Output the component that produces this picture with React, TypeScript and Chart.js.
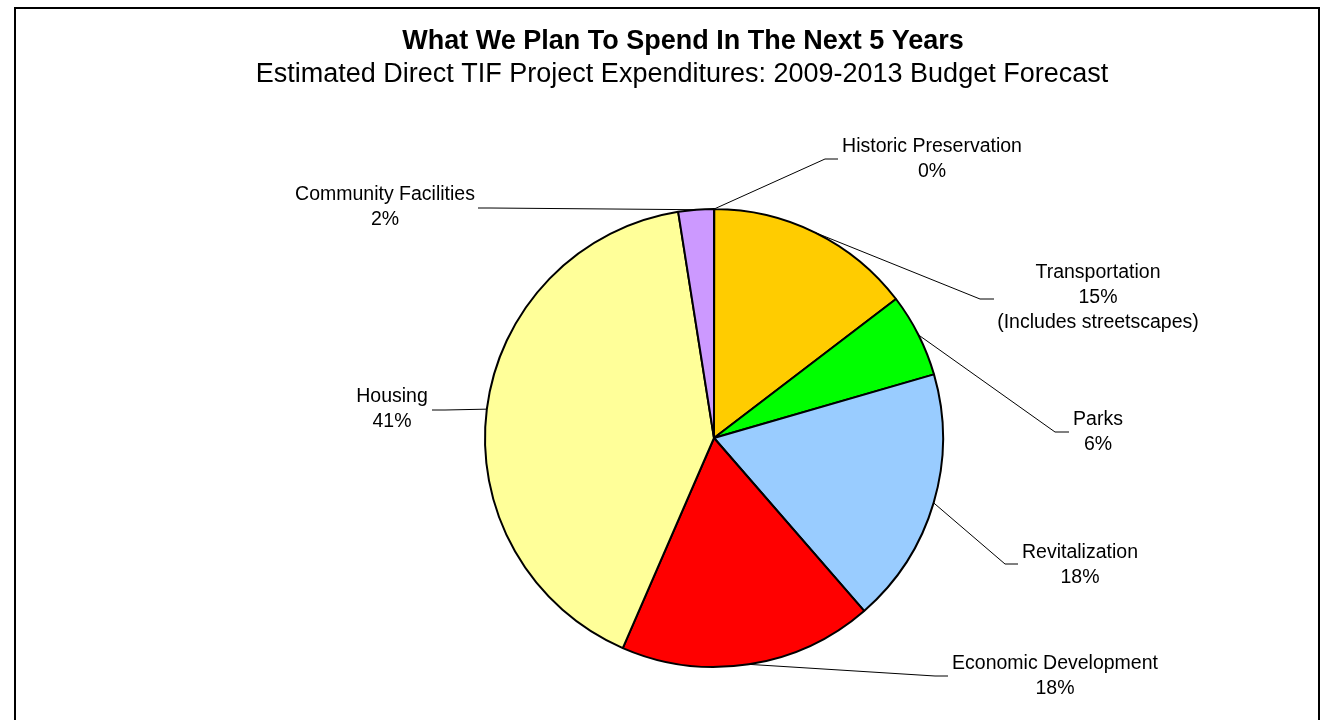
import React, { useEffect, useRef } from "react";
import { Chart, registerables } from "chart.js";

Chart.register(...registerables);

const categories = [
  "Historic Preservation",
  "Transportation",
  "Parks",
  "Revitalization",
  "Economic Development",
  "Housing",
  "Community Facilities",
];
const shares = [0.02, 14.6, 5.9, 18.1, 17.9, 40.98, 2.5];
const percentLabels = ["0%", "15%", "6%", "18%", "18%", "41%", "2%"];
const extraLines = ["", "(Includes streetscapes)", "", "", "", "", ""];
const sliceColors = ["#FF9900", "#FFCC00", "#00FF00", "#99CCFF", "#FF0000", "#FFFF99", "#CC99FF"];

const titleText = "What We Plan To Spend In The Next 5 Years";
const subtitleText = "Estimated Direct TIF Project Expenditures: 2009-2013 Budget Forecast";

// label layout: elbow point, end of leader, text centre and first line y
const labelLayout = [
  { elbow: [825, 159], end: [838, 159], tx: 932, ty: 147 },
  { elbow: [980, 299], end: [994, 299], tx: 1098, ty: 273 },
  { elbow: [1055, 432], end: [1069, 432], tx: 1098, ty: 420 },
  { elbow: [1005, 564], end: [1018, 564], tx: 1080, ty: 553 },
  { elbow: [935, 676], end: [948, 676], tx: 1055, ty: 664 },
  { elbow: [445, 410], end: [432, 410], tx: 392, ty: 397 },
  { elbow: [490, 208], end: [478, 208], tx: 385, ty: 195 },
];

const FONT = "'Liberation Sans', Arial, sans-serif";

const framePlugin = {
  id: "frame",
  beforeDraw(chart: any) {
    const ctx = chart.ctx;
    ctx.save();
    ctx.fillStyle = "#FFFFFF";
    ctx.fillRect(0, 0, chart.width, chart.height);
    ctx.strokeStyle = "#000000";
    ctx.lineWidth = 2;
    ctx.strokeRect(15, 8, 1304, 740);
    ctx.fillStyle = "#000000";
    ctx.textAlign = "center";
    ctx.textBaseline = "middle";
    ctx.font = `bold 27px ${FONT}`;
    ctx.fillText(titleText, 683, 42);
    ctx.font = `27px ${FONT}`;
    ctx.fillText(subtitleText, 682, 75);
    ctx.restore();
  },
};

const labelPlugin = {
  id: "pieLabels",
  afterDatasetsDraw(chart: any) {
    const ctx = chart.ctx;
    const meta = chart.getDatasetMeta(0);
    ctx.save();
    meta.data.forEach((arc: any, i: number) => {
      const { x, y, startAngle, endAngle, outerRadius } = arc.getProps(
        ["x", "y", "startAngle", "endAngle", "outerRadius"],
        true
      );
      const mid = (startAngle + endAngle) / 2;
      const sx = x + Math.cos(mid) * outerRadius;
      const sy = y + Math.sin(mid) * outerRadius;
      const lay = labelLayout[i];
      ctx.strokeStyle = "#000000";
      ctx.lineWidth = 1;
      ctx.beginPath();
      ctx.moveTo(sx, sy);
      ctx.lineTo(lay.elbow[0], lay.elbow[1]);
      ctx.lineTo(lay.end[0], lay.end[1]);
      ctx.stroke();
      ctx.fillStyle = "#000000";
      ctx.font = `19.5px ${FONT}`;
      ctx.textAlign = "center";
      ctx.textBaseline = "middle";
      const lines = [categories[i], percentLabels[i]];
      if (extraLines[i]) lines.push(extraLines[i]);
      lines.forEach((t, k) => ctx.fillText(t, lay.tx, lay.ty + k * 25));
    });
    ctx.restore();
  },
};

export default function App() {
  const ref = useRef<HTMLCanvasElement | null>(null);
  useEffect(() => {
    if (!ref.current) return;
    const chart = new Chart(ref.current, {
      type: "pie",
      data: {
        labels: categories,
        datasets: [
          {
            data: shares,
            backgroundColor: sliceColors,
            borderColor: "#000000",
            borderWidth: 2,
          },
        ],
      },
      options: {
        responsive: false,
        animation: false,
        layout: { padding: { top: 208, bottom: 52, left: 484, right: 379 } },
        plugins: {
          legend: { display: false },
          tooltip: { enabled: false },
          title: { display: false },
        },
      },
      plugins: [framePlugin, labelPlugin],
    });
    return () => chart.destroy();
  }, []);
  return (
    <div style={{ position: "absolute", left: 0, top: 0, width: 1323, height: 720 }}>
      <canvas ref={ref} width={1323} height={720} />
    </div>
  );
}
